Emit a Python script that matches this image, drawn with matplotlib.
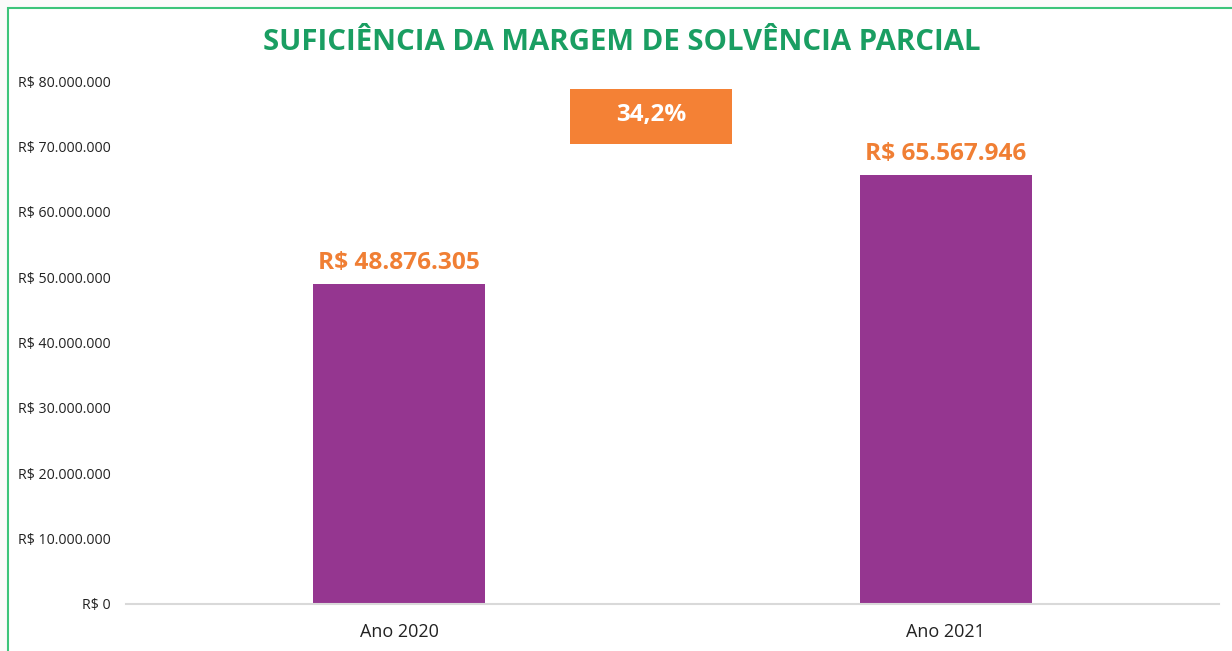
import matplotlib.pyplot as plt
from matplotlib.patches import Rectangle

categories = ['Ano 2020', 'Ano 2021']
values = [48876305, 65567946]
value_labels = ['R$ 48.876.305', 'R$ 65.567.946']
growth_label = '34,2%'
yticks = [0, 10000000, 20000000, 30000000, 40000000, 50000000, 60000000, 70000000, 80000000]

plt.rcParams['font.family'] = ['Open Sans', 'DejaVu Sans']

fig = plt.figure(figsize=(12.32, 6.51), dpi=100)
fig.patch.set_facecolor('#fafafa')

# white chart area with green frame (cut off at right/bottom)
fig.patches.append(Rectangle((8 / 1232, -0.1), 1.2, (651 - 8) / 651 + 0.1,
                             transform=fig.transFigure, facecolor='white',
                             edgecolor='#3cc47a', linewidth=1.5, zorder=-5))

ax = fig.add_axes([126 / 1232, 47 / 651, (1219 - 126) / 1232, (604 - 81) / 651])
ax.set_facecolor('none')

x = range(len(categories))
ax.bar(x, values, width=0.315, color='#953690', zorder=2)
ax.set_xlim(-0.5, 1.5)
ax.set_ylim(0, 80000000)
ax.set_xticks(list(x))
ax.set_xticklabels(categories, fontsize=13, color='#222222')
ax.set_yticks(yticks)


def fmt(v):
    if v == 0:
        return 'R$ 0'
    return 'R$ ' + f'{v:,.0f}'.replace(',', '.')


ax.set_yticklabels([fmt(v) for v in yticks], fontsize=10.2, color='#222222')
ax.tick_params(axis='both', length=0)
ax.tick_params(axis='y', pad=11)
ax.tick_params(axis='x', pad=14)
for s in ['top', 'right', 'left']:
    ax.spines[s].set_visible(False)
ax.spines['bottom'].set_color('#d9d9d9')
ax.spines['bottom'].set_linewidth(1.5)

for xi, v, lab in zip(x, values, value_labels):
    ax.text(xi, v + 1400000, lab, ha='center', va='bottom', fontsize=17.6,
            fontweight='bold', color='#f07f34')

fig.text(622 / 1232, 1 - 42 / 651, 'SUFICIÊNCIA DA MARGEM DE SOLVÊNCIA PARCIAL',
         ha='center', va='center', fontsize=21.2, fontweight='bold', color='#1a9e62')

# growth box between the bars
fig.patches.append(Rectangle((570 / 1232, 1 - 144 / 651), 162 / 1232, 55 / 651,
                             transform=fig.transFigure, facecolor='#f48135',
                             edgecolor='none', zorder=3))
fig.text(651 / 1232, 1 - 115 / 651, growth_label, ha='center', va='center',
         fontsize=17.5, fontweight='bold', color='white', zorder=4)

fig.savefig('out.png', dpi=100, facecolor=fig.get_facecolor())
